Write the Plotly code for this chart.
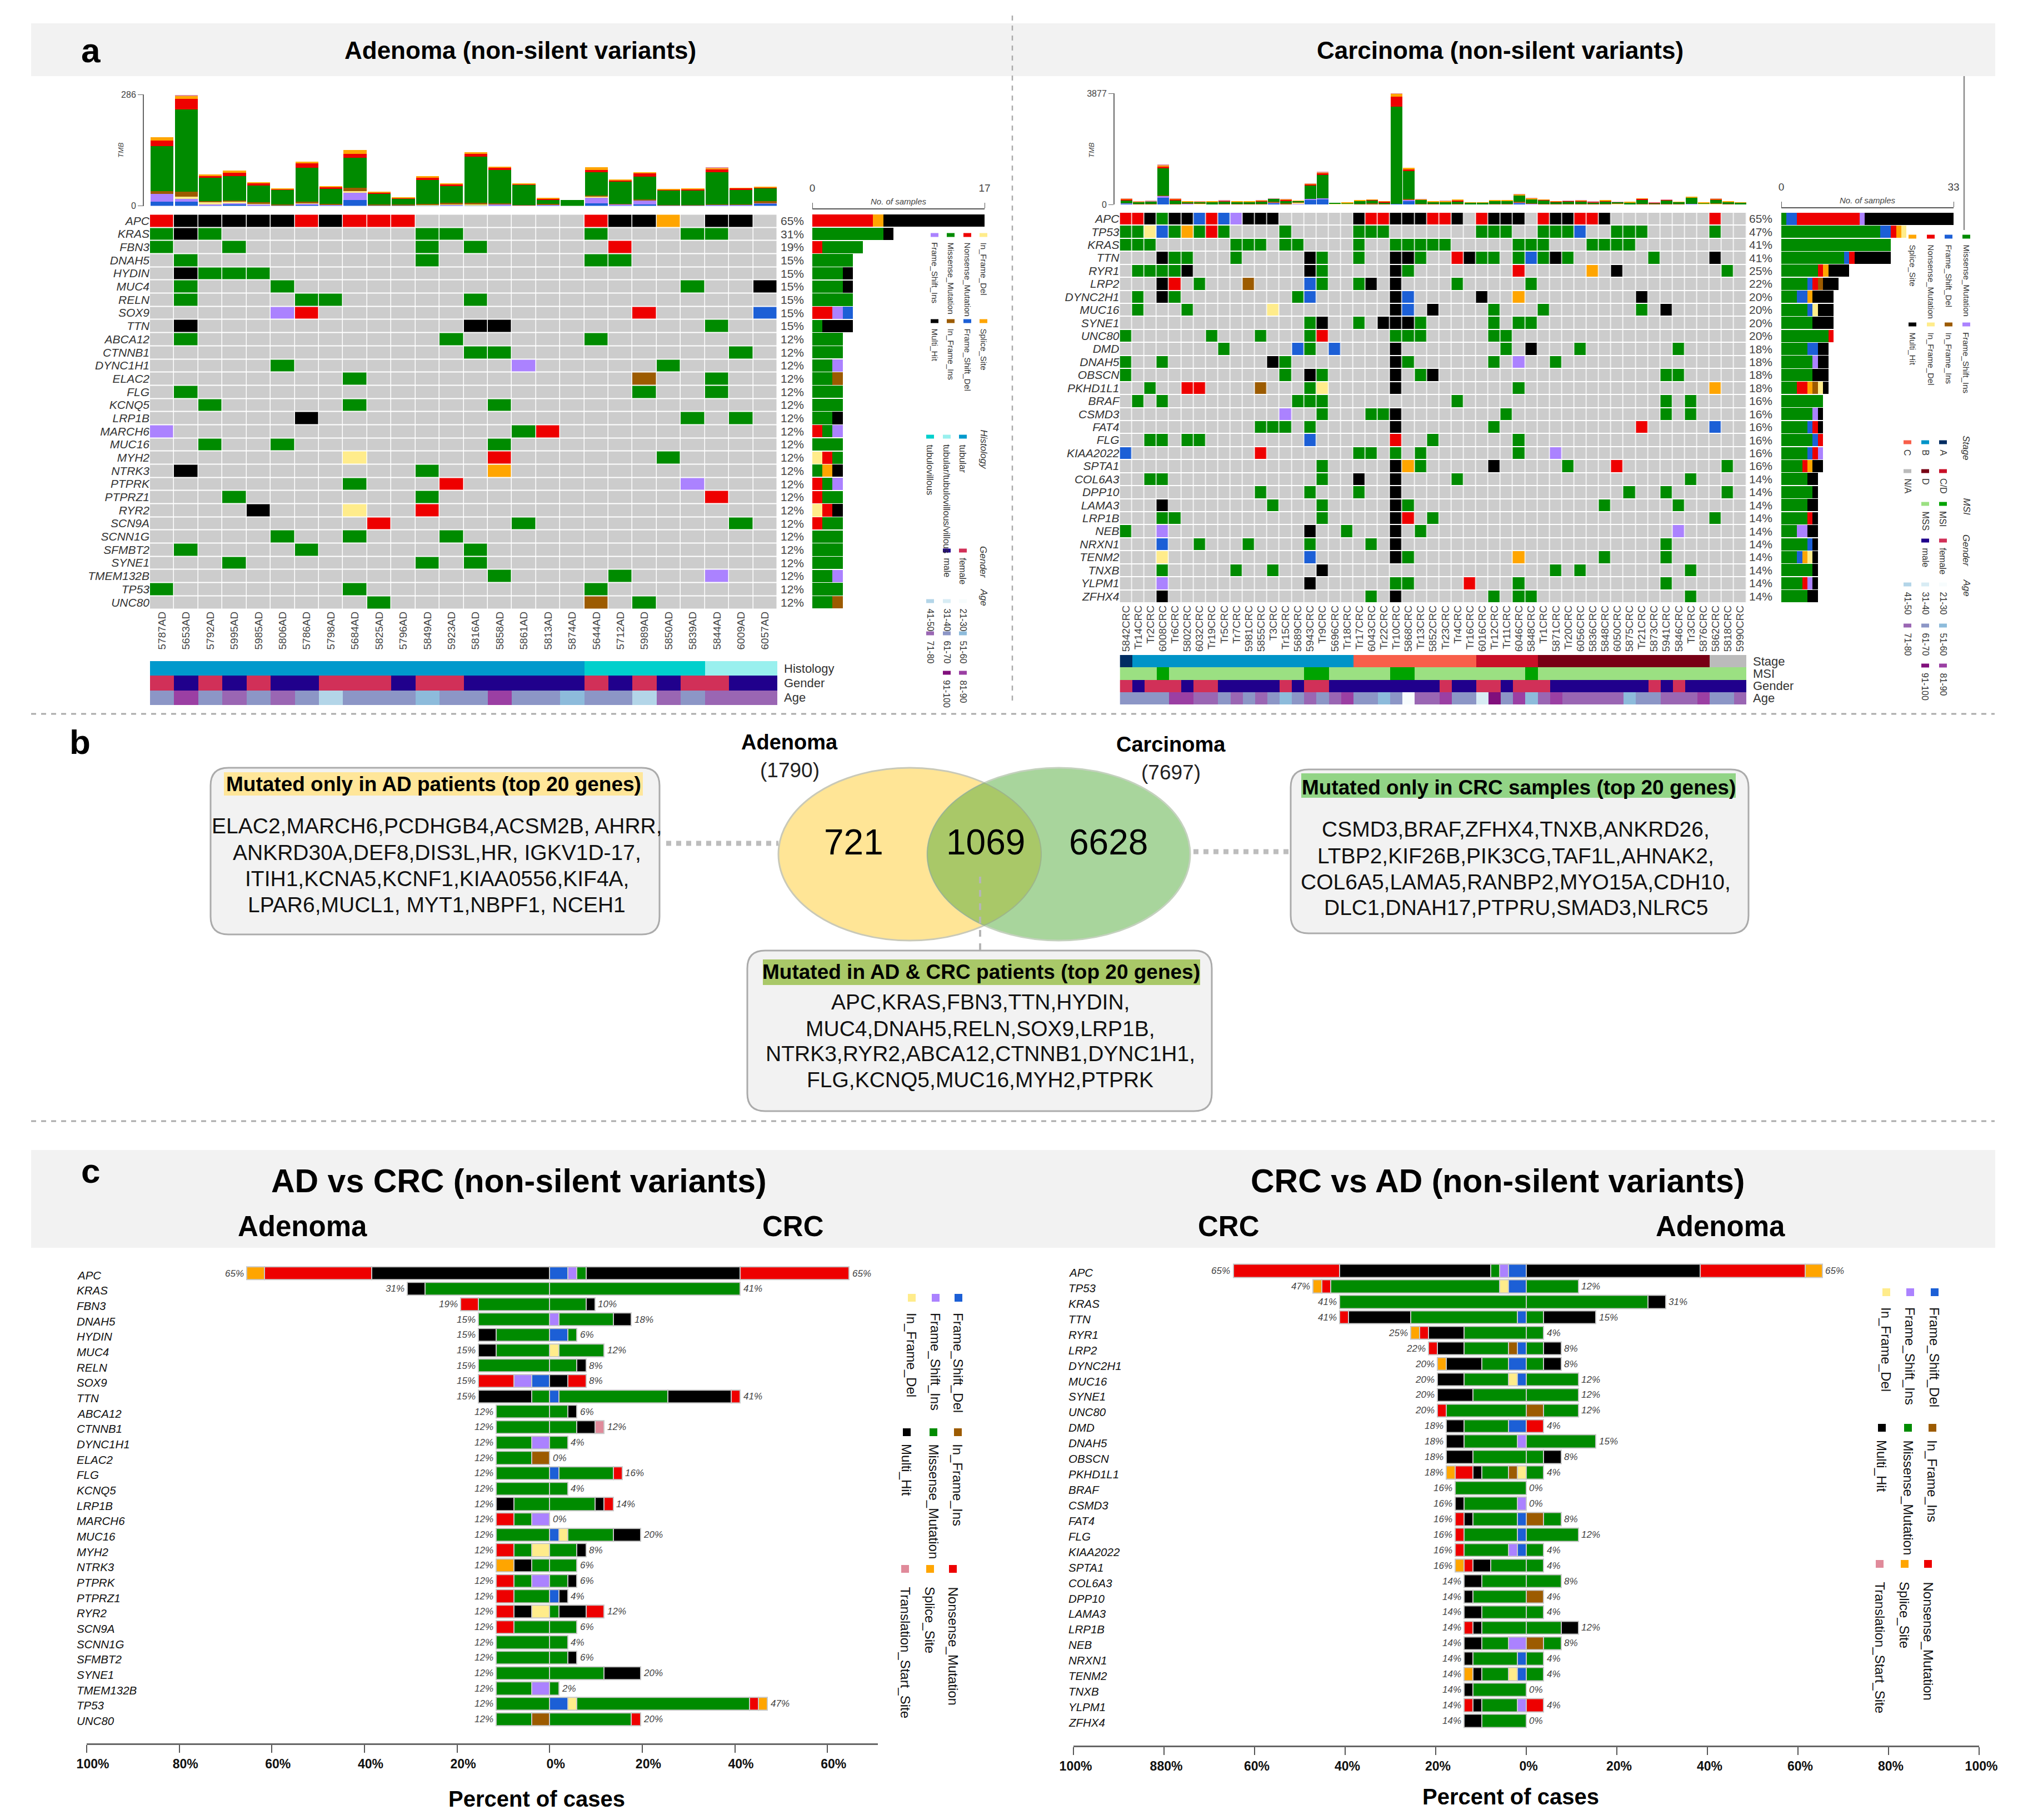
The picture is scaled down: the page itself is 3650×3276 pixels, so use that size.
#!/usr/bin/env python3
import numpy as np
import plotly.graph_objects as go

W = 3650
H = 3276
PAGE_MARGIN = 8  # the page body keeps its default margin
FONT = "Liberation Sans"

# variant types, order is the stack order of the TMB bars
TYPE_NAMES = {
    "M": "Missense_Mutation", "N": "Nonsense_Mutation", "H": "Multi_Hit", "S": "Splice_Site",
    "I": "Frame_Shift_Ins", "D": "Frame_Shift_Del", "F": "In_Frame_Ins", "E": "In_Frame_Del",
    "T": "Translation_Start_Site",
}
TYPE_COLORS = {
    "M": "#008B00", "N": "#EE0000", "H": "#000000", "S": "#FFA500", "I": "#AB82FF",
    "D": "#1C5FD6", "F": "#9C5B00", "E": "#FFEC8B", "T": "#E08A9A",
}
EMPTY_COLOR = "#CCCCCC"

AD_SAMPLES = ["5787AD", "5653AD", "5792AD", "5995AD", "5985AD", "5806AD", "5786AD", "5798AD", "5684AD",
              "5825AD", "5796AD", "5849AD", "5923AD", "5816AD", "5858AD", "5861AD", "5813AD", "5874AD",
              "5644AD", "5712AD", "5989AD", "5850AD", "5839AD", "5844AD", "6009AD", "6057AD"]

CRC_SAMPLES = ["5842CRC", "Tr14CRC", "Tr2CRC", "6008CRC", "Tr6CRC", "5802CRC", "6032CRC", "Tr19CRC", "Tr5CRC",
               "Tr7CRC", "5981CRC", "5855CRC", "T3CRC", "Tr15CRC", "5689CRC", "5943CRC", "Tr9CRC", "5696CRC",
               "Tr18CRC", "Tr17CRC", "6043CRC", "Tr22CRC", "Tr10CRC", "5868CRC", "Tr13CRC", "5852CRC", "Tr23CRC",
               "Tr4CRC", "Tr16CRC", "6016CRC", "Tr12CRC", "Tr11CRC", "6046CRC", "5848CRC", "Tr1CRC", "5871CRC",
               "Tr20CRC", "6056CRC", "5836CRC", "5848CRC", "6050CRC", "5875CRC", "Tr21CRC", "5873CRC", "5941CRC",
               "5846CRC", "Tr3CRC", "5876CRC", "5862CRC", "5818CRC", "5990CRC"]

# oncoplot cells, type letter + sample index
AD_CELLS = {
    "APC": "N0 H1 H2 H3 H4 H5 N6 H7 N8 N9 N10 N18 H19 H20 S21 H23 H24",
    "KRAS": "M0 H1 M2 M11 M12 M18 M22 M23",
    "FBN3": "M0 M3 M11 M13 N19",
    "DNAH5": "M1 M11 M18 M19",
    "HYDIN": "H1 M2 M3 M4",
    "MUC4": "M1 M5 M22 H25",
    "RELN": "M1 M6 M7 M13",
    "SOX9": "I5 N6 N20 D25",
    "TTN": "H1 H13 H14 M23",
    "ABCA12": "M1 M12 M18",
    "CTNNB1": "M13 M14 M24",
    "DYNC1H1": "M5 I15 M21",
    "ELAC2": "M8 F20 M23",
    "FLG": "M1 M20 M23",
    "KCNQ5": "M2 M8 M14",
    "LRP1B": "H6 M22 M24",
    "MARCH6": "I0 M15 N16",
    "MUC16": "M2 M5 M14",
    "MYH2": "E8 N14 M21",
    "NTRK3": "H1 M11 S14",
    "PTPRK": "M8 N12 I22",
    "PTPRZ1": "M3 M11 N23",
    "RYR2": "H4 E8 N11",
    "SCN9A": "N9 M15 M24",
    "SCNN1G": "M5 M8 M12",
    "SFMBT2": "M1 M6 M13",
    "SYNE1": "M3 M11 M13",
    "TMEM132B": "M14 M19 I23",
    "TP53": "M0 M8 M18",
    "UNC80": "M9 F18 M20",
}

CRC_CELLS = {
    "APC": "N0 N1 H2 M3 H4 H5 D6 N7 D8 I9 H10 H11 H12 H19 N20 N21 H22 H23 H24 N25 N26 H27 N29 H30 H31 H32 N34 H35 H36 N37 N38 H39 N48",
    "TP53": "M0 M1 E2 D3 M4 S5 M6 N7 M8 M13 M19 M20 M21 M29 M30 M31 M34 M35 M36 D37 M40 M41 M42 M48",
    "KRAS": "M0 M1 M2 M9 M10 M11 M13 M14 M19 M22 M23 M24 M25 M26 M32 M33 M34 M38 M39 M40 M41",
    "TTN": "H3 M4 M5 M9 H15 M16 M19 H22 H23 M24 N27 H28 M29 M30 M32 D33 M34 H35 M36 M43 H48",
    "RYR1": "M1 M2 M3 M4 H5 H15 M16 H22 M23 N32 S38 H40 M49",
    "LRP2": "H3 N4 M6 F10 D15 M16 M19 H20 H22 M27 M33",
    "DYNC2H1": "M1 H3 M4 M14 D15 H22 D23 H29 S32 H42",
    "MUC16": "M1 M5 E12 H22 D23 H25 M30 M34 M42 H44",
    "SYNE1": "M15 H16 M19 H21 H22 H23 M24 M30 M32 M33",
    "UNC80": "M0 M7 M11 M15 N16 M22 M23 M24 M30 M31",
    "DMD": "M8 D14 M15 D17 H22 M31 H33 M37 M45",
    "DNAH5": "M0 M3 H12 M13 H22 M23 M30 I32 M35",
    "OBSCN": "M0 M13 H15 M16 H22 M24 H25 M44 M45",
    "PKHD1L1": "M2 N5 N6 F11 M15 E16 H22 M32 S48",
    "BRAF": "M1 M3 M14 M15 M16 M27 M44 M46",
    "CSMD3": "I13 M16 M20 M21 H22 M31 M44 M46",
    "FAT4": "M11 M12 M13 M15 H22 M30 N42 D48",
    "FLG": "M2 M3 M5 M6 D15 N22 M25 M32",
    "KIAA2022": "D0 N11 M19 M20 M22 M24 M32 I35",
    "SPTA1": "M16 H22 S23 M24 H30 M36 N40 M49",
    "COL6A3": "M2 M3 M16 H19 H22 M27 M46",
    "DPP10": "M11 M15 M19 H22 M41 M44 M49",
    "LAMA3": "H3 M12 M16 H22 M23 M39 M45",
    "LRP1B": "M3 M4 M16 H22 N23 M25 M48",
    "NEB": "M0 I3 H15 M18 H22 M24 I45",
    "NRXN1": "D3 M6 M10 M15 M20 H22 M44",
    "TENM2": "E3 D15 H22 M23 S32 M39 M44",
    "TNXB": "M3 M9 M12 H16 M35 M37 M46",
    "YLPM1": "I3 H15 M22 M23 N28 M32 M44",
    "ZFHX4": "H3 M20 H22 M30 M32 M33 M46",
}

# TMB stacks
TMB_AD_MAX = 286
TMB_AD = {
    "D": [11, 11, 2, 3, 2, 1, 2, 1, 15, 1, 1, 1, 1, 1, 2, 0, 1, 0, 6, 2, 4, 1, 1, 2, 2, 5],
    "I": [19, 7, 2, 4, 2, 1, 3, 1, 18, 1, 1, 1, 2, 1, 2, 1, 1, 0, 14, 2, 10, 0, 0, 1, 1, 2],
    "E": [0, 5, 6, 3, 1, 0, 1, 0, 5, 0, 0, 1, 1, 2, 0, 0, 0, 0, 3, 0, 0, 0, 0, 0, 0, 0],
    "F": [8, 14, 2, 3, 4, 2, 5, 3, 9, 2, 2, 2, 4, 4, 3, 1, 3, 0, 3, 1, 3, 1, 1, 1, 1, 5],
    "M": [115, 210, 60, 63, 43, 36, 87, 38, 76, 28, 14, 62, 42, 118, 85, 51, 11, 15, 60, 57, 58, 38, 37, 82, 37, 33],
    "N": [14, 28, 5, 9, 7, 3, 11, 5, 11, 2, 2, 5, 5, 8, 6, 3, 2, 0, 6, 4, 9, 2, 4, 8, 4, 1],
    "S": [9, 8, 3, 5, 2, 1, 4, 2, 10, 1, 1, 4, 3, 4, 3, 1, 2, 0, 7, 1, 1, 1, 1, 3, 1, 3],
    "T": [0, 2, 0, 0, 0, 0, 0, 0, 0, 0, 0, 0, 0, 0, 0, 0, 0, 0, 0, 0, 0, 0, 0, 1, 0, 0],
}

TMB_CRC_MAX = 3877
TMB_CRC = {
    "D": [30, 5, 5, 226, 5, 15, 0, 0, 10, 0, 0, 10, 50, 5, 15, 150, 180, 5, 5, 5, 10, 0, 20, 130, 10,
          0, 0, 0, 0, 0, 5, 5, 50, 10, 0, 10, 0, 10, 0, 5, 5, 0, 5, 0, 5, 5, 15, 5, 15, 5, 0],
    "I": [5, 0, 5, 65, 0, 5, 0, 0, 5, 0, 0, 5, 25, 5, 15, 40, 40, 0, 0, 0, 0, 0, 0, 30, 0,
          0, 0, 0, 0, 0, 0, 0, 20, 15, 0, 0, 5, 0, 0, 0, 0, 0, 0, 0, 0, 0, 10, 0, 0, 0, 0],
    "E": [0, 10, 5, 0, 0, 0, 20, 5, 0, 10, 10, 0, 0, 5, 30, 0, 0, 15, 25, 5, 5, 0, 0, 0, 5,
          5, 0, 0, 5, 5, 0, 10, 0, 5, 0, 0, 0, 0, 5, 0, 20, 0, 5, 0, 0, 0, 0, 15, 5, 5, 0],
    "F": [0, 10, 10, 10, 15, 10, 10, 0, 10, 5, 5, 10, 30, 15, 10, 0, 0, 0, 5, 5, 30, 10, 0, 30, 5,
          5, 5, 15, 0, 0, 5, 5, 20, 10, 25, 5, 20, 5, 5, 10, 5, 5, 5, 10, 5, 10, 0, 5, 10, 5, 0],
    "M": [110, 60, 80, 950, 120, 50, 50, 75, 90, 65, 70, 85, 90, 105, 60, 470, 810, 40, 20, 110, 95, 65, 3400, 970, 140,
          70, 90, 100, 55, 55, 125, 100, 230, 140, 120, 70, 80, 90, 60, 95, 55, 60, 155, 40, 130, 65, 215, 20, 140, 80, 60],
    "N": [30, 0, 0, 60, 35, 0, 0, 5, 5, 0, 5, 25, 0, 20, 0, 40, 70, 0, 0, 0, 20, 25, 340, 70, 0,
          10, 0, 30, 0, 0, 0, 0, 0, 10, 15, 20, 20, 20, 20, 20, 0, 0, 25, 10, 15, 0, 0, 0, 15, 0, 0],
    "S": [27, 15, 0, 50, 30, 25, 25, 20, 15, 25, 15, 5, 0, 20, 5, 25, 5, 0, 5, 15, 10, 15, 100, 40, 20,
          10, 35, 15, 10, 10, 20, 20, 30, 25, 10, 10, 5, 15, 5, 10, 5, 15, 10, 5, 10, 15, 20, 40, 20, 25, 5],
    "T": [7, 4, 35, 25, 2, 0, 5, 0, 5, 0, 0, 15, 10, 5, 0, 5, 26, 0, 0, 0, 0, 0, 17, 0, 10,
          0, 5, 0, 0, 0, 0, 0, 12, 5, 0, 0, 5, 5, 10, 0, 5, 0, 0, 5, 5, 0, 0, 0, 5, 0, 0],
}

# clinical tracks, one code per sample
HIST_LABELS = ["tubular", "tubular/tubulovillous/villous", "tubulovillous"]
HIST_COLORS = ["#0099CC", "#99F0EE", "#00D0CC"]
AD_HIST = [0, 0, 0, 0, 0, 0, 0, 0, 0, 0, 0, 0, 0, 0, 0, 0, 0, 0, 2, 2, 2, 2, 2, 1, 1, 1]

GENDER_LABELS = ["female", "male"]
GENDER_COLORS = ["#D13058", "#20008C"]
AD_GENDER = [0, 1, 0, 1, 0, 1, 1, 0, 0, 0, 1, 0, 0, 1, 1, 1, 1, 1, 0, 1, 0, 1, 0, 0, 1, 1]
CRC_GENDER = [0, 1, 0, 0, 0, 1, 0, 0, 1, 1, 1, 1, 1, 0, 1, 0, 0, 1, 1, 1, 1, 1, 1, 1, 1, 1,
              0, 1, 1, 0, 0, 1, 0, 0, 0, 1, 1, 1, 1, 1, 1, 1, 1, 0, 1, 0, 1, 1, 1, 1, 1]

AGE_LABELS = ["21-30", "31-40", "41-50", "51-60", "61-70", "71-80", "81-90", "91-100"]
AGE_COLORS = ["#F7FCFD", "#D8ECF4", "#B3D5E8", "#8DBBDB", "#8C96C6", "#9A66B3", "#9B3FA3", "#810F7C"]
AD_AGE = [4, 6, 4, 5, 4, 5, 4, 2, 4, 4, 4, 3, 4, 4, 6, 4, 4, 3, 4, 4, 2, 5, 4, 5, 5, 5]
CRC_AGE = [4, 4, 4, 4, 6, 6, 5, 5, 4, 5, 4, 5, 4, 3, 4, 5, 4, 5, 6, 4, 4, 3, 4, 0, 5, 5,
           6, 4, 4, 1, 7, 4, 6, 3, 5, 6, 5, 5, 5, 5, 5, 3, 4, 4, 5, 5, 5, 6, 4, 4, 5]

STAGE_LABELS = ["A", "B", "C", "C/D", "D", "N/A"]
STAGE_COLORS = ["#002D62", "#0094C8", "#F85F4A", "#C91028", "#780015", "#BBBBBB"]
CRC_STAGE = [0] + [1] * 18 + [2] * 10 + [3] * 5 + [4] * 14 + [5] * 3

MSI_LABELS = ["MSI", "MSS"]
MSI_COLORS = ["#00A300", "#9BE082"]
CRC_MSI = [1, 1, 1, 0, 1, 1, 1, 1, 1, 1, 1, 1, 1, 1, 1, 0, 0, 1, 1, 1, 1, 1, 0, 0, 1, 1,
           1, 1, 1, 1, 1, 1, 1, 0, 1, 1, 1, 1, 1, 1, 1, 1, 1, 1, 1, 1, 1, 1, 1, 1, 1]

# panel c, sample counts per type, from the middle outwards
STACK_ORDER = ["D", "I", "E", "F", "M", "H", "N", "S", "T"]
AD_TOTAL = len(AD_SAMPLES)
CRC_TOTAL = len(CRC_SAMPLES)

ADVS_GENES = list(AD_CELLS.keys())
ADVS_AD = ["H10 N6 S1", "M7 H1", "M4 N1", "M4", "M3 H1", "M3 H1", "M4", "D1 I1 N2", "M1 H3", "M3", "M3", "I1 M2",
           "F1 M2", "M3", "M3", "M2 H1", "I1 M1 N1", "M3", "E1 M1 N1", "M1 H1 S1", "I1 M1 N1", "M2 N1", "E1 H1 N1",
           "M2 N1", "M3", "M3", "M3", "I1 M2", "M3", "F1 M2"]
ADVS_CRC = ["D2 I1 M1 H17 N12", "M21", "M4 H1", "I1 M6 H2", "D2 M1", "E1 M5", "M3 H1", "H2 N2", "D1 M12 H7 N1",
            "M2 H1", "M3 H2 T1", "M2", "", "D1 M6 N1", "M2", "M5 H1 N1", "", "D1 E1 M5 H3", "M3 H1", "M3", "M2 H1",
            "D1 H1", "M1 H3 N2", "M3", "M2", "M2 H1", "M6 H4", "M1", "D2 E1 M19 N1 S1", "M9 N1"]

CRCVS_GENES = list(CRC_CELLS.keys())
CRCVS_CRC = ["D2 I1 M1 H17 N12", "D2 E1 M19 N1 S1", "M21", "D1 M12 H7 N1", "M7 H4 N1 S1", "D1 F1 M5 H3 N1",
             "D2 M3 H4 S1", "D1 E1 M5 H3", "M6 H4", "M9 N1", "D2 M5 H2", "I1 M6 H2", "M6 H3", "E1 F1 M3 H1 N2 S1",
             "M8", "I1 M6 H1", "D1 M5 H1 N1", "D1 M6 N1", "D1 I1 M5 N1", "M4 H2 N1 S1", "M5 H2", "M6 H1", "M5 H2",
             "M5 H1 N1", "I2 M3 H2", "D1 M5 H1", "D1 E1 M3 H1 S1", "M6 H1", "I1 M4 H1 N1", "M5 H2"]
CRCVS_AD = ["H10 N6 S1", "M3", "M7 H1", "M1 H3", "M1", "M1 H1", "M1 H1", "M3", "M3", "F1 M2", "N1", "M4", "M1 H1",
            "M1", "", "", "F1 M1", "M3", "M1", "M1", "M2", "F1", "M1", "M2 H1", "F1 M1", "M1", "M1", "", "N1", ""]

PCT_TICKS = [-100, -80, -60, -40, -20, 0, 20, 40, 60, 80, 100]
ADVS_TICKTEXT = ["100%", "80%", "60%", "40%", "20%", "0%", "20%", "40%", "60%"]
CRCVS_TICKTEXT = ["100%", "880%", "60%", "40%", "20%", "0%", "20%", "40%", "60%", "80%", "100%"]

AD_ONLY_GENES = ["ELAC2,MARCH6,PCDHGB4,ACSM2B, AHRR,", "ANKRD30A,DEF8,DIS3L,HR, IGKV1D-17,",
                 "ITIH1,KCNA5,KCNF1,KIAA0556,KIF4A,", "LPAR6,MUCL1, MYT1,NBPF1, NCEH1"]
CRC_ONLY_GENES = ["CSMD3,BRAF,ZFHX4,TNXB,ANKRD26,", "LTBP2,KIF26B,PIK3CG,TAF1L,AHNAK2,",
                  "COL6A5,LAMA5,RANBP2,MYO15A,CDH10,", "DLC1,DNAH17,PTPRU,SMAD3,NLRC5"]
SHARED_GENES = ["APC,KRAS,FBN3,TTN,HYDIN,", "MUC4,DNAH5,RELN,SOX9,LRP1B,",
                "NTRK3,RYR2,ABCA12,CTNNB1,DYNC1H1,", "FLG,KCNQ5,MUC16,MYH2,PTPRK"]

fig = go.Figure()
shapes = []
annots = []
axis_count = 0


def px(x):
    return (x - PAGE_MARGIN) / W


def py(y):
    return 1 - (y - PAGE_MARGIN) / H


def newAxes(left, right, top, bottom, xopts, yopts):
    global axis_count
    axis_count += 1
    n = axis_count
    # automargin off, the template would otherwise shrink the whole plot area
    xo = dict(domain=[px(left), px(right)], anchor=f"y{n}", showgrid=False, zeroline=False, showline=False,
              showticklabels=False, ticks="", automargin=False)
    yo = dict(domain=[py(bottom), py(top)], anchor=f"x{n}", showgrid=False, zeroline=False, showline=False,
              showticklabels=False, ticks="", automargin=False)
    xo.update(xopts)
    yo.update(yopts)
    fig.update_layout(**{f"xaxis{n}": xo, f"yaxis{n}": yo})
    return f"x{n}", f"y{n}"


def label(x, y, text, size, color="#000000", angle=0, xanchor="center", yanchor="middle", xref="paper", yref="paper"):
    xv = px(x) if xref == "paper" else x
    yv = py(y) if yref == "paper" else y
    annots.append(dict(x=xv, y=yv, xref=xref, yref=yref, text=text, showarrow=False, textangle=angle,
                       xanchor=xanchor, yanchor=yanchor, font=dict(family=FONT, size=size, color=color)))


def rect(x0, y0, x1, y1, fill, line=None):
    shapes.append(dict(type="rect", xref="paper", yref="paper", x0=px(x0), x1=px(x1), y0=py(y0), y1=py(y1),
                       fillcolor=fill, line=dict(width=0) if line is None else line, layer="below"))


def hline(x0, y0, x1, y1, color, width, dash="solid"):
    shapes.append(dict(type="line", xref="paper", yref="paper", x0=px(x0), x1=px(x1), y0=py(y0), y1=py(y1),
                       line=dict(color=color, width=width, dash=dash)))


def roundBox(x0, y0, x1, y1, r):
    # rounded box for the gene lists in b
    p = (f"M {px(x0 + r)} {py(y0)} L {px(x1 - r)} {py(y0)} Q {px(x1)} {py(y0)} {px(x1)} {py(y0 + r)} "
         f"L {px(x1)} {py(y1 - r)} Q {px(x1)} {py(y1)} {px(x1 - r)} {py(y1)} "
         f"L {px(x0 + r)} {py(y1)} Q {px(x0)} {py(y1)} {px(x0)} {py(y1 - r)} "
         f"L {px(x0)} {py(y0 + r)} Q {px(x0)} {py(y0)} {px(x0 + r)} {py(y0)} Z")
    shapes.append(dict(type="path", xref="paper", yref="paper", path=p, fillcolor="#F2F2F2",
                       line=dict(color="#ABABAB", width=3), layer="below"))


def legendItem(x, y, text, color, text_y, size, sw=14, sh=7, text_color="#333333"):
    rect(x - sw / 2, y - sh / 2, x + sw / 2, y + sh / 2, color)
    label(x, text_y, text, size, color=text_color, angle=90, yanchor="top")


def parseCells(cells, genes, n_samples):
    letters = ["."] + list(TYPE_COLORS.keys())
    z = []
    for g in genes:
        row = [0] * n_samples
        for tok in cells[g].split():
            row[int(tok[1:])] = letters.index(tok[0])
        z.append(row)
    return z


def parseCounts(items):
    out = {k: [0] * len(items) for k in STACK_ORDER}
    for i, it in enumerate(items):
        for tok in it.split():
            out[tok[0]][i] = int(tok[1:])
    return out


def discreteScale(colors):
    n = len(colors)
    scale = []
    for i, c in enumerate(colors):
        scale.append([i / n, c])
        scale.append([(i + 1) / n, c])
    return scale


def drawOncoplot(cells, samples, tmb, tmb_max, box, side_order, side_max, tracks):
    genes = list(cells.keys())
    n = len(samples)
    left, right, top, bottom = box["left"], box["right"], box["top"], box["bottom"]
    rows = list(range(len(genes)))
    pitch = (bottom - top) / len(genes)

    # TMB bars on top
    xa, ya = newAxes(left, right, box["tmb_top"], box["tmb_bottom"],
                     dict(range=[-0.5, n - 0.5]),
                     dict(range=[0, tmb_max], showline=True, linecolor="#666666", linewidth=2, ticks="outside",
                          ticklen=9, tickcolor="#666666", tickvals=[0, tmb_max], showticklabels=True,
                          tickfont=dict(family=FONT, size=16, color="#444444"),
                          anchor="free", position=px(box["tmb_axis"])))
    for t, vals in tmb.items():
        fig.add_trace(go.Bar(x=list(range(n)), y=vals, xaxis=xa, yaxis=ya, width=0.95,
                             marker=dict(color=TYPE_COLORS[t], line=dict(width=0)), showlegend=False))
    label(box["tmb_label_x"], box["tmb_label_y"], "<i>TMB</i>", 13, color="#444444", angle=-90)

    # main grid
    z = parseCells(cells, genes, n)
    palette = [EMPTY_COLOR] + list(TYPE_COLORS.values())
    xa, ya = newAxes(left, right, top, bottom,
                     dict(range=[-0.5, n - 0.5], tickmode="array", tickvals=list(range(n)), ticktext=samples,
                          showticklabels=True, tickangle=-90, tickfont=dict(family=FONT, size=19, color="#444444"),
                          ticklen=0),
                     dict(range=[len(genes) - 0.5, -0.5], tickmode="array", tickvals=rows, ticktext=genes,
                          showticklabels=True, ticklen=0,
                          tickfont=dict(family=FONT, size=21, color="#333333", style="italic")))
    fig.add_trace(go.Heatmap(z=z, x=list(range(n)), y=rows, xaxis=xa, yaxis=ya, zmin=-0.5,
                             zmax=len(palette) - 0.5, colorscale=discreteScale(palette), showscale=False,
                             xgap=1.5, ygap=2))

    # percent column
    for i, g in enumerate(genes):
        pct = round(len(cells[g].split()) / n * 100)
        label(box["pct_x"], top + pitch * (i + 0.5), f"{pct}%", 21, color="#444444", xanchor="left")

    # side bars, same cells counted per type
    extra = (bottom - box["side_axis"]) / pitch - len(genes)
    xa, ya = newAxes(box["side_left"], box["side_right"], box["side_axis"], bottom,
                     dict(range=[0, side_max], side="top", showline=True, linecolor="#555555", linewidth=2,
                          ticks="outside", ticklen=10, tickcolor="#555555", tickvals=[0, side_max],
                          showticklabels=True, ticklabelstandoff=12,
                          tickfont=dict(family=FONT, size=19, color="#444444")),
                     dict(range=[len(genes) - 0.5, -0.5 - extra]))
    letters = ["."] + list(TYPE_COLORS.keys())
    for t in side_order:
        code = letters.index(t)
        vals = [row.count(code) for row in z]
        fig.add_trace(go.Bar(x=vals, y=rows, xaxis=xa, yaxis=ya, orientation="h", width=0.94,
                             marker=dict(color=TYPE_COLORS[t], line=dict(width=0)), showlegend=False))
    label((box["side_left"] + box["side_right"]) / 2, box["side_axis"] - 15, "<i>No. of samples</i>", 15,
          color="#444444")

    # clinical tracks
    palette = []
    z_tracks = []
    names = []
    for name, codes, colors in tracks:
        off = len(palette)
        palette += colors
        z_tracks.append([c + off for c in codes])
        names.append(name)
    xa, ya = newAxes(left, right, box["track_top"], box["track_bottom"],
                     dict(range=[-0.5, n - 0.5]),
                     dict(range=[len(names) - 0.5, -0.5]))
    fig.add_trace(go.Heatmap(z=z_tracks, x=list(range(n)), y=list(range(len(names))), xaxis=xa, yaxis=ya,
                             zmin=-0.5, zmax=len(palette) - 0.5, colorscale=discreteScale(palette), showscale=False))
    step = (box["track_bottom"] - box["track_top"]) / len(names)
    for i, name in enumerate(names):
        label(box["right"] + 10, box["track_top"] + step * (i + 0.5), name, 22, color="#333333", xanchor="left")


def drawCompare(genes, left_items, right_items, left_total, right_total, box, ticks, ticktext):
    r_left = parseCounts(left_items)
    r_right = parseCounts(right_items)
    rows = list(range(len(genes)))
    pitch = box["pitch"]
    span = (box["axis_y"] - box["first_y"]) / pitch
    xa, ya = newAxes(box["x_minus100"], box["x_end"], box["first_y"] - pitch / 2, box["axis_y"],
                     dict(range=[-100, box["x_max"]], tickmode="array", tickvals=ticks, ticktext=ticktext,
                          showticklabels=True, showline=True, linecolor="#666666", linewidth=3, ticks="outside",
                          ticklen=14, tickwidth=2, tickcolor="#555555", ticklabelshift=box["tick_shift"],
                          tickfont=dict(family=FONT, size=23, color="#111111", weight="bold")),
                     dict(range=[span, -0.5]))
    for t in STACK_ORDER:
        fig.add_trace(go.Bar(x=[-v / left_total * 100 for v in r_left[t]], y=rows, xaxis=xa, yaxis=ya,
                             orientation="h", width=0.84, showlegend=False,
                             marker=dict(color=TYPE_COLORS[t], line=dict(color="#C8C8C8", width=2))))
    for t in STACK_ORDER:
        fig.add_trace(go.Bar(x=[v / right_total * 100 for v in r_right[t]], y=rows, xaxis=xa, yaxis=ya,
                             orientation="h", width=0.84, showlegend=False,
                             marker=dict(color=TYPE_COLORS[t], line=dict(color="#C8C8C8", width=2))))
    for i, g in enumerate(genes):
        label(box["gene_x"], box["first_y"] + pitch * i + 3, f"<i>{g}</i>", 20.5, color="#111111", xanchor="left")
        l_n = sum(r_left[t][i] for t in STACK_ORDER)
        r_n = sum(r_right[t][i] for t in STACK_ORDER)
        l_pct = l_n / left_total * 100
        r_pct = r_n / right_total * 100
        label(-l_pct - 0.4, i, f"<i>{round(l_pct)}%</i>", 17, color="#444444", xanchor="right", xref=xa, yref=ya)
        label(r_pct + 0.4, i, f"<i>{round(r_pct)}%</i>", 17, color="#444444", xanchor="left", xref=xa, yref=ya)


# --- panel a ---
rect(56, 42, 3591, 137, "#F2F2F2")
label(163, 90, "<b>a</b>", 62)
label(937, 90, "<b>Adenoma (non-silent variants)</b>", 44)
label(2700, 90, "<b>Carcinoma (non-silent variants)</b>", 44)
hline(1822, 28, 1822, 1270, "#AAAAAA", 2.5, "dash")
hline(3535, 137, 3535, 414, "#8A8A8A", 2.5)
hline(56, 1285, 3590, 1285, "#AAAAAA", 3, "dash")

drawOncoplot(
    AD_CELLS, AD_SAMPLES, TMB_AD, TMB_AD_MAX,
    dict(left=270, right=1399, top=385.5, bottom=1096, tmb_top=170, tmb_bottom=370.5, tmb_axis=258, tmb_label_x=218,
         tmb_label_y=270, pct_x=1403, side_left=1462, side_right=1772, side_axis=377, track_top=1190,
         track_bottom=1269),
    ["E", "N", "M", "F", "S", "I", "D", "H"], 17,
    [("Histology", AD_HIST, HIST_COLORS), ("Gender", AD_GENDER, GENDER_COLORS), ("Age", AD_AGE, AGE_COLORS)],
)
drawOncoplot(
    CRC_CELLS, CRC_SAMPLES, TMB_CRC, TMB_CRC_MAX,
    dict(left=2015.5, right=3143, top=382, bottom=1085, tmb_top=168, tmb_bottom=368, tmb_axis=2005, tmb_label_x=1965,
         tmb_label_y=270, pct_x=3146, side_left=3206, side_right=3516, side_axis=375, track_top=1179,
         track_bottom=1268),
    ["M", "D", "N", "S", "F", "E", "I", "H"], 33,
    [("Stage", CRC_STAGE, STAGE_COLORS), ("MSI", CRC_MSI, MSI_COLORS), ("Gender", CRC_GENDER, GENDER_COLORS),
     ("Age", CRC_AGE, AGE_COLORS)],
)

# legends of the oncoplots, rotated text
LEG = 15
HEAD = 17
for x, top_t, bot_t in [(1770, "E", "S"), (1741, "N", "D"), (1711, "M", "F"), (1682, "I", "H")]:
    legendItem(x, 423, TYPE_NAMES[top_t], TYPE_COLORS[top_t], 434, LEG)
    legendItem(x, 578, TYPE_NAMES[bot_t], TYPE_COLORS[bot_t], 589, LEG)
label(1770, 771, "<i>Histology</i>", HEAD, color="#333333", angle=90, yanchor="top")
for x, i in [(1733, 0), (1704, 1), (1674, 2)]:
    legendItem(x, 786, HIST_LABELS[i], HIST_COLORS[i], 798, 16.5)
label(1770, 981, "<i>Gender</i>", HEAD, color="#333333", angle=90, yanchor="top")
for x, i in [(1733, 0), (1704, 1)]:
    legendItem(x, 991, GENDER_LABELS[i], GENDER_COLORS[i], 1002, 16)
label(1770, 1057, "<i>Age</i>", HEAD, color="#333333", angle=90, yanchor="top")
for x, i, y in [(1733, 0, 1082), (1704, 1, 1082), (1674, 2, 1082), (1733, 3, 1140), (1704, 4, 1140), (1674, 5, 1140),
                (1733, 6, 1211), (1704, 7, 1211)]:
    legendItem(x, y, AGE_LABELS[i], AGE_COLORS[i], y + 11, 16)

for x, top_t, bot_t in [(3539, "M", "I"), (3507, "D", "F"), (3475, "N", "E"), (3442, "S", "H")]:
    legendItem(x, 426, TYPE_NAMES[top_t], TYPE_COLORS[top_t], 438, LEG)
    legendItem(x, 584, TYPE_NAMES[bot_t], TYPE_COLORS[bot_t], 596, LEG)
label(3539, 782, "<i>Stage</i>", HEAD, color="#333333", angle=90, yanchor="top")
for x, i, y in [(3497, 0, 796), (3465, 1, 796), (3433, 2, 796), (3497, 3, 848), (3465, 4, 848), (3433, 5, 848)]:
    legendItem(x, y, STAGE_LABELS[i], STAGE_COLORS[i], y + 11, 16)
label(3539, 894, "<i>MSI</i>", HEAD, color="#333333", angle=90, yanchor="top")
for x, i in [(3497, 0), (3465, 1)]:
    legendItem(x, 907, MSI_LABELS[i], MSI_COLORS[i], 918, 16)
label(3539, 960, "<i>Gender</i>", HEAD, color="#333333", angle=90, yanchor="top")
for x, i in [(3497, 0), (3465, 1)]:
    legendItem(x, 973, GENDER_LABELS[i], GENDER_COLORS[i], 984, 16)
label(3539, 1040, "<i>Age</i>", HEAD, color="#333333", angle=90, yanchor="top")
for x, i, y in [(3497, 0, 1052), (3465, 1, 1052), (3433, 2, 1052), (3497, 3, 1126), (3465, 4, 1126), (3433, 5, 1126),
                (3497, 6, 1198), (3465, 7, 1198)]:
    legendItem(x, y, AGE_LABELS[i], AGE_COLORS[i], y + 11, 16)

# --- panel b ---
label(144, 1335, "<b>b</b>", 62)
LX, RX, CY, RAD_X, RAD_Y = 1637.5, 1905.5, 1537.5, 236.5, 155.5
shapes.append(dict(type="circle", xref="paper", yref="paper", x0=px(LX - RAD_X), x1=px(LX + RAD_X), y0=py(CY + RAD_Y),
                   y1=py(CY - RAD_Y), fillcolor="#FFE596", line=dict(color="#C9C9B8", width=3)))
shapes.append(dict(type="circle", xref="paper", yref="paper", x0=px(RX - RAD_X), x1=px(RX + RAD_X), y0=py(CY + RAD_Y),
                   y1=py(CY - RAD_Y), fillcolor="#A8D59C", line=dict(color="#C4D1BE", width=3)))
th = np.arccos((RX - LX) / 2 / RAD_X)
t1 = np.linspace(-th, th, 40)
t2 = np.linspace(np.pi - th, np.pi + th, 40)
lens_x = np.concatenate([LX + RAD_X * np.cos(t1), RX + RAD_X * np.cos(t2)])
lens_y = np.concatenate([CY + RAD_Y * np.sin(t1), CY + RAD_Y * np.sin(t2)])
lens_path = "M " + " L ".join(f"{px(a):.5f} {py(b):.5f}" for a, b in zip(lens_x, lens_y)) + " Z"
shapes.append(dict(type="path", xref="paper", yref="paper", path=lens_path, fillcolor="#A9C868",
                   line=dict(color="#9DB58A", width=2)))
label(1536, 1516, "721", 64)
label(1774, 1516, "1069", 64)
label(1995, 1516, "6628", 64)
label(1421, 1336, "<b>Adenoma</b>", 38)
label(1421, 1386, "(1790)", 37, color="#222222")
label(2107, 1340, "<b>Carcinoma</b>", 38)
label(2107, 1390, "(7697)", 37, color="#222222")

roundBox(379, 1382, 1187, 1682, 32)
rect(403, 1390, 1157, 1432, "#FFE699")
label(780, 1411, "<b>Mutated only in AD patients (top 20 genes)</b>", 37)
for y, txt in zip([1487, 1534, 1581, 1628], AD_ONLY_GENES):
    label(786, y, txt, 39, color="#111111")

roundBox(2323, 1385, 3147, 1680, 32)
rect(2342, 1392, 3124, 1436, "#92D486")
label(2733, 1417, "<b>Mutated only in CRC samples (top 20 genes)</b>", 37)
for y, txt in zip([1493, 1540, 1587, 1633], CRC_ONLY_GENES):
    label(2728, y, txt, 39, color="#111111")

roundBox(1345, 1711, 2181, 2000, 32)
rect(1373, 1727, 2160, 1773, "#A9C868")
label(1766, 1749, "<b>Mutated in AD & CRC patients (top 20 genes)</b>", 37)
for y, txt in zip([1803, 1851, 1897, 1943], SHARED_GENES):
    label(1764, y, txt, 39, color="#111111")

hline(1199, 1518, 1401, 1518, "#BDBDBD", 9, "dot")
hline(2148, 1533, 2323, 1533, "#BDBDBD", 9, "dot")
hline(1764, 1578, 1764, 1712, "#B5B5B5", 4, "dash")
hline(56, 2018, 3590, 2018, "#AAAAAA", 3, "dash")

# --- panel c ---
rect(56, 2070, 3591, 2246, "#F2F2F2")
label(163, 2107, "<b>c</b>", 62)
label(934, 2126, "<b>AD vs CRC (non-silent variants)</b>", 59)
label(544, 2207, "<b>Adenoma</b>", 51)
label(1427, 2207, "<b>CRC</b>", 51)
label(2696, 2126, "<b>CRC vs AD (non-silent variants)</b>", 59)
label(2211, 2207, "<b>CRC</b>", 51)
label(3096, 2207, "<b>Adenoma</b>", 51)
label(966, 3238, "<b>Percent of cases</b>", 40)
label(2719, 3234, "<b>Percent of cases</b>", 40)

drawCompare(ADVS_GENES, ADVS_AD, ADVS_CRC, AD_TOTAL, CRC_TOTAL,
            dict(x_minus100=156, x_end=1580, x_max=70.9, first_y=2292, pitch=27.67, axis_y=3138, gene_x=136,
                 tick_shift=11),
            PCT_TICKS[:-2], ADVS_TICKTEXT)
drawCompare(CRCVS_GENES, CRCVS_CRC, CRCVS_AD, CRC_TOTAL, AD_TOTAL,
            dict(x_minus100=1932, x_end=3562, x_max=100, first_y=2287.5, pitch=27.93, axis_y=3142, gene_x=1921,
                 tick_shift=4),
            PCT_TICKS, CRCVS_TICKTEXT)

for sw_y, text_y, column in [
    (2336, 2361, [(1725, "D"), (1684, "I"), (1641, "E")]),
    (2578, 2597, [(1724, "F"), (1680, "M"), (1632, "H")]),
    (2824, 2854, [(1715, "N"), (1674, "S"), (1629, "T")]),
    (2326, 2351, [(3482, "D"), (3438, "I"), (3395, "E")]),
    (2570, 2590, [(3478, "F"), (3434, "M"), (3387, "H")]),
    (2815, 2845, [(3470, "N"), (3428, "S"), (3383, "T")]),
]:
    for x, t in column:
        legendItem(x, sw_y, TYPE_NAMES[t], TYPE_COLORS[t], text_y, 24, sw=14, sh=14, text_color="#111111")

fig.update_layout(
    width=W, height=H, margin=dict(l=0, r=0, t=0, b=0, pad=0),
    paper_bgcolor="white", plot_bgcolor="rgba(0,0,0,0)",
    barmode="relative", bargap=0, showlegend=False,
    shapes=shapes, annotations=annots,
    font=dict(family=FONT),
)

fig.write_html("out.html")
